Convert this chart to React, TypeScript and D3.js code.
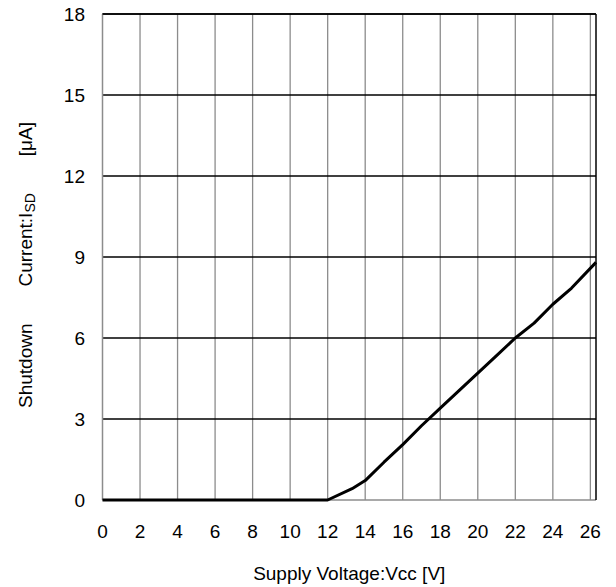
import * as React from "react";
import * as d3 from "d3";

// supply voltage [V] vs shutdown current [uA]
const voltages: number[] = [0, 12, 13.3, 14, 15, 16, 17, 18, 19, 20, 21, 22, 23, 24, 25, 26.3];
const currents: number[] = [0, 0, 0.42, 0.72, 1.4, 2.05, 2.75, 3.4, 4.05, 4.7, 5.35, 6.0, 6.55, 7.25, 7.85, 8.8];

const xTicks: number[] = [0, 2, 4, 6, 8, 10, 12, 14, 16, 18, 20, 22, 24, 26];
const yTicks: number[] = [0, 3, 6, 9, 12, 15, 18];

const W = 616;
const H = 587;
const margin = { top: 14, right: 20, bottom: 87, left: 102.5 };
const FONT = "'Liberation Sans', Arial, sans-serif";
const GRAY = "#8c8c8c";

export default function App(): JSX.Element {
  const x = d3.scaleLinear().domain([0, 26.3]).range([margin.left, W - margin.right]);
  const y = d3.scaleLinear().domain([0, 18]).range([H - margin.bottom, margin.top]);

  const line = d3.line<number>()
    .x((_, i) => x(voltages[i]))
    .y((d) => y(d));

  const x0 = x.range()[0];
  const x1 = x.range()[1];
  const y0 = y.range()[0];
  const y1 = y.range()[1];

  return (
    <div style={{ position: "absolute", left: 0, top: 0 }}>
      <svg width={W} height={H} style={{ display: "block", background: "#fff" }} fontFamily={FONT}>
        {/* vertical grid */}
        {xTicks.filter((t) => t > 0).map((t) => (
          <line key={"vx" + t} x1={x(t)} x2={x(t)} y1={y1} y2={y0} stroke={GRAY} strokeWidth={1.3} />
        ))}
        {/* horizontal grid */}
        {yTicks.filter((t) => t > 0).map((t) => (
          <line key={"hy" + t} x1={x0} x2={x1} y1={y(t)} y2={y(t)} stroke="#000" strokeWidth={1.3} />
        ))}
        {/* frame */}
        <line x1={x0} x2={x0} y1={y1} y2={y0} stroke={GRAY} strokeWidth={1.5} />
        <line x1={x0} x2={x1} y1={y0} y2={y0} stroke={GRAY} strokeWidth={1.5} />
        <line x1={x1} x2={x1} y1={y1} y2={y0} stroke="#000" strokeWidth={1.5} />
        <line x1={x0} x2={x1} y1={y1} y2={y1} stroke="#000" strokeWidth={1.5} />

        {/* data */}
        <path d={line(currents) || ""} fill="none" stroke="#000" strokeWidth={3} strokeLinejoin="round" />

        {/* y tick labels */}
        {yTicks.map((t) => (
          <text key={"yl" + t} x={85} y={y(t)} dy="0.36em" textAnchor="end" fontSize={19}>{t}</text>
        ))}
        {/* x tick labels */}
        {xTicks.map((t) => (
          <text key={"xl" + t} x={x(t)} y={538} textAnchor="middle" fontSize={19}>{t}</text>
        ))}

        <text x={(x0 + x1) / 2} y={580} textAnchor="middle" fontSize={19}>Supply Voltage:Vcc [V]</text>
        <text transform={`translate(32, ${(y0 + y1) / 2 + 8}) rotate(-90)`} textAnchor="middle" fontSize={19}
          style={{ whiteSpace: "pre" }}>
          {"Shutdown       Current:I"}
          <tspan fontSize={14} dy={3}>SD</tspan>
          <tspan dy={-3}>{"       [μA]"}</tspan>
        </text>
      </svg>
    </div>
  );
}
